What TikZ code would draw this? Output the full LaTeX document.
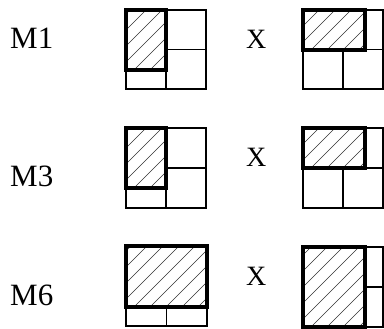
\documentclass[tikz,border=0pt]{standalone}
\usepackage{fontspec}
\setmainfont{Liberation Serif}
\tikzset{
  thinline/.style={line width=1.3pt,black},
  thickline/.style={line width=3.6pt,black},
  hatchline/.style={line width=0.7pt,black!80},
  mlabel/.style={anchor=base west,inner sep=0pt,font=\fontsize{31}{31}\selectfont},
  xlabel/.style={anchor=base west,inner sep=0pt,font=\fontsize{28}{28}\selectfont}
}
\newcommand\gridsq[4]{% x1 y1 x2 y2 : 2x2 grid
  \draw[thinline] (#1,#2) rectangle (#3,#4);
  \draw[thinline] ({(#1+#3)/2},#2) -- ({(#1+#3)/2},#4);
  \draw[thinline] (#1,{(#2+#4)/2}) -- (#3,{(#2+#4)/2});
}
\newcommand\hatchbox[4]{% x1 y1 x2 y2
  \fill[white] (#1,#2) rectangle (#3,#4);
  \begin{scope}
    \clip (#1,#2) rectangle (#3,#4);
    \foreach \k in {0,...,13} \draw[hatchline] ({#1+\k*16-104},#4) -- ++(120,-120);
  \end{scope}
  \draw[thickline] (#1,#2) rectangle (#3,#4);
}
\begin{document}
\begin{tikzpicture}[x=1pt,y=-1pt]
\useasboundingbox (0,0) rectangle (384,329);
% row 1
\node[mlabel] (m1) at (10,49) {M1};
\gridsq{126}{10}{206}{89}
\hatchbox{126}{10}{166}{70}
\node[xlabel] (x1) at (246,49) {X};
\gridsq{303}{10}{383}{89}
\hatchbox{303}{10}{365}{50}
% row 2
\node[mlabel] (m3) at (10,187) {M3};
\gridsq{126}{128}{206}{208}
\hatchbox{126}{128}{166}{188}
\node[xlabel] (x2) at (246,167) {X};
\gridsq{303}{128}{383}{208}
\hatchbox{303}{128}{365}{168}
% row 3
\node[mlabel] (m6) at (10,306) {M6};
\gridsq{126}{246}{207}{326}
\hatchbox{126}{246}{207}{307}
\node[xlabel] (x3) at (246,286) {X};
\gridsq{303}{247}{383}{327}
\hatchbox{303}{247}{365}{327}
\end{tikzpicture}
\end{document}
